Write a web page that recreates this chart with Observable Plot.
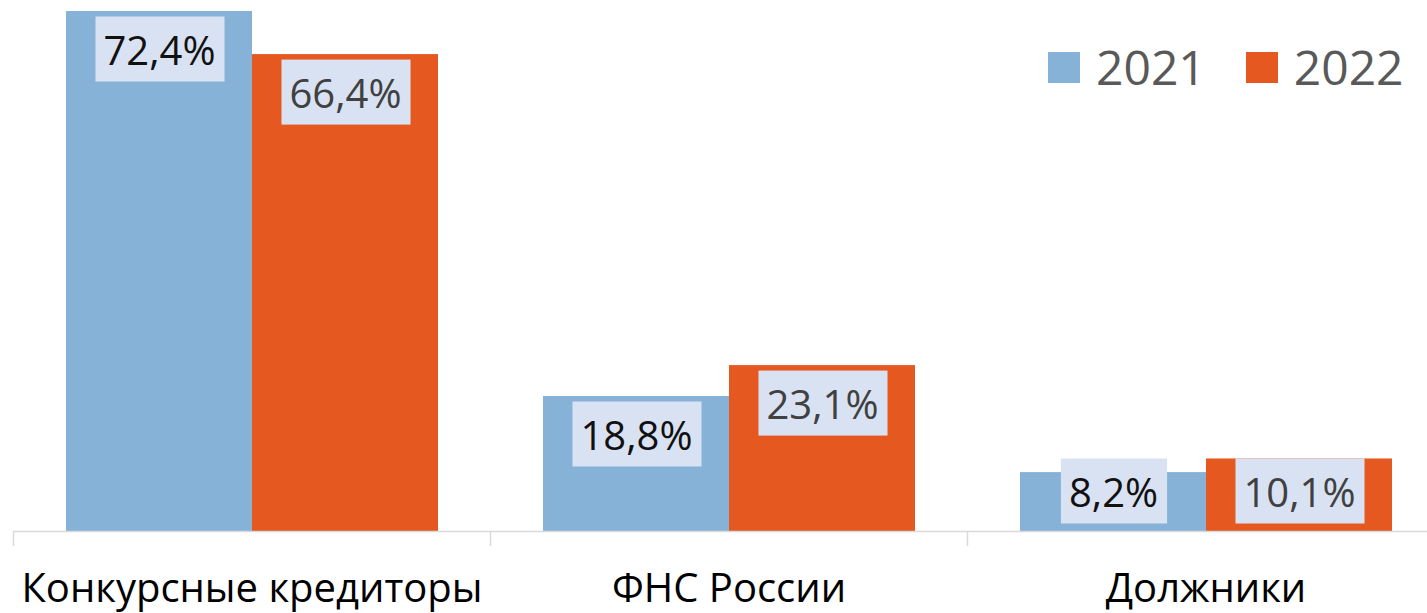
<!DOCTYPE html>
<html><head><meta charset="utf-8">
<script src="https://cdn.jsdelivr.net/npm/d3@7"></script>
<script src="https://cdn.jsdelivr.net/npm/@observablehq/plot@0.6"></script>
<style>
body{margin:0;background:#fff;font-family:"Open Sans",sans-serif;}
#wrap{position:relative;width:1427px;height:613px;overflow:hidden;background:#fff;}
#legend{position:absolute;left:1048px;top:43px;display:flex;align-items:center;font-size:48px;line-height:48px;color:#595959;white-space:nowrap;}
#legend .sw{width:32px;height:31px;margin-right:16px;}
#legend .it{display:flex;align-items:center;margin-right:40px;}
</style></head><body>
<div id="wrap"><div id="chart"></div><div id="legend"></div></div>
<script>
const categories = ["Конкурсные кредиторы", "ФНС России", "Должники"];
const years = ["2021", "2022"];
const values2021 = [72.4, 18.8, 8.2];
const values2022 = [66.4, 23.1, 10.1];
const colors = ["#86b2d7", "#e5581f"];
const labelColors = ["#111111", "#404040"];
const boxColor = "#d9e2f3";

const data = categories.flatMap((c, i) => [
  {cat: c, year: years[0], value: values2021[i]},
  {cat: c, year: years[1], value: values2022[i]}
]);
const fmt = v => v.toFixed(1).replace(".", ",") + "%";
const labelSet = new Set(data.map(d => fmt(d.value)));

const yMax = 80, yBottom = 531, yTop = -43.6;
const ppu = (yBottom - yTop) / yMax;
const labelY = v => Math.max(v - 41 / ppu, 37 / ppu);

const plot = Plot.plot({
  width: 1427,
  height: 613,
  marginLeft: 0, marginRight: 0, marginTop: 0, marginBottom: 82,
  style: {fontFamily: "'Open Sans', sans-serif", background: "#fff"},
  fx: {domain: categories, range: [13, 1444], padding: 0, axis: null, label: null},
  x: {domain: years, paddingInner: 0, paddingOuter: 0.28, axis: null},
  y: {domain: [0, yMax], range: [yBottom, yTop], axis: null},
  color: {domain: years, range: colors},
  marks: [
    Plot.barY(data, {fx: "cat", x: "year", y: "value", fill: "year", inset: 0}),
    Plot.ruleY([0], {stroke: "#d9d9d9", strokeWidth: 1.5}),
    Plot.axisFx({anchor: "bottom", tickSize: 15, tickFormat: () => "", dx: -238.5, stroke: "#d9d9d9", strokeWidth: 1.5, label: null}),
    Plot.text(data.filter(d => d.year === years[0]), {fx: "cat", x: "year", y: d => labelY(d.value), text: d => fmt(d.value), fill: labelColors[0], fontSize: 40}),
    Plot.text(data.filter(d => d.year === years[1]), {fx: "cat", x: "year", y: d => labelY(d.value), text: d => fmt(d.value), fill: labelColors[1], fontSize: 40}),
    Plot.text(categories, {fx: d => d, text: d => d, frameAnchor: "bottom", dy: 70, fontSize: 40, fill: "#000"})
  ]
});
document.getElementById("chart").appendChild(plot);

// background boxes behind value labels
Array.from(plot.querySelectorAll("text"))
  .filter(t => labelSet.has(t.textContent.trim()))
  .forEach(t => {
    const bb = t.getBBox();
    const cy = bb.y + bb.height / 2 - 0.8;
    const r = document.createElementNS("http://www.w3.org/2000/svg", "rect");
    r.setAttribute("x", bb.x - 8);
    r.setAttribute("y", cy - 32.5);
    r.setAttribute("width", bb.width + 17);
    r.setAttribute("height", 65);
    r.setAttribute("fill", boxColor);
    const tr = t.getAttribute("transform");
    if (tr) r.setAttribute("transform", tr);
    t.parentNode.insertBefore(r, t);
  });

// legend
const lg = document.getElementById("legend");
years.forEach((y, i) => {
  const it = document.createElement("div");
  it.className = "it";
  const sw = document.createElement("div");
  sw.className = "sw";
  sw.style.background = colors[i];
  const tx = document.createElement("span");
  tx.textContent = y;
  it.appendChild(sw); it.appendChild(tx);
  lg.appendChild(it);
});
</script>
</body></html>
